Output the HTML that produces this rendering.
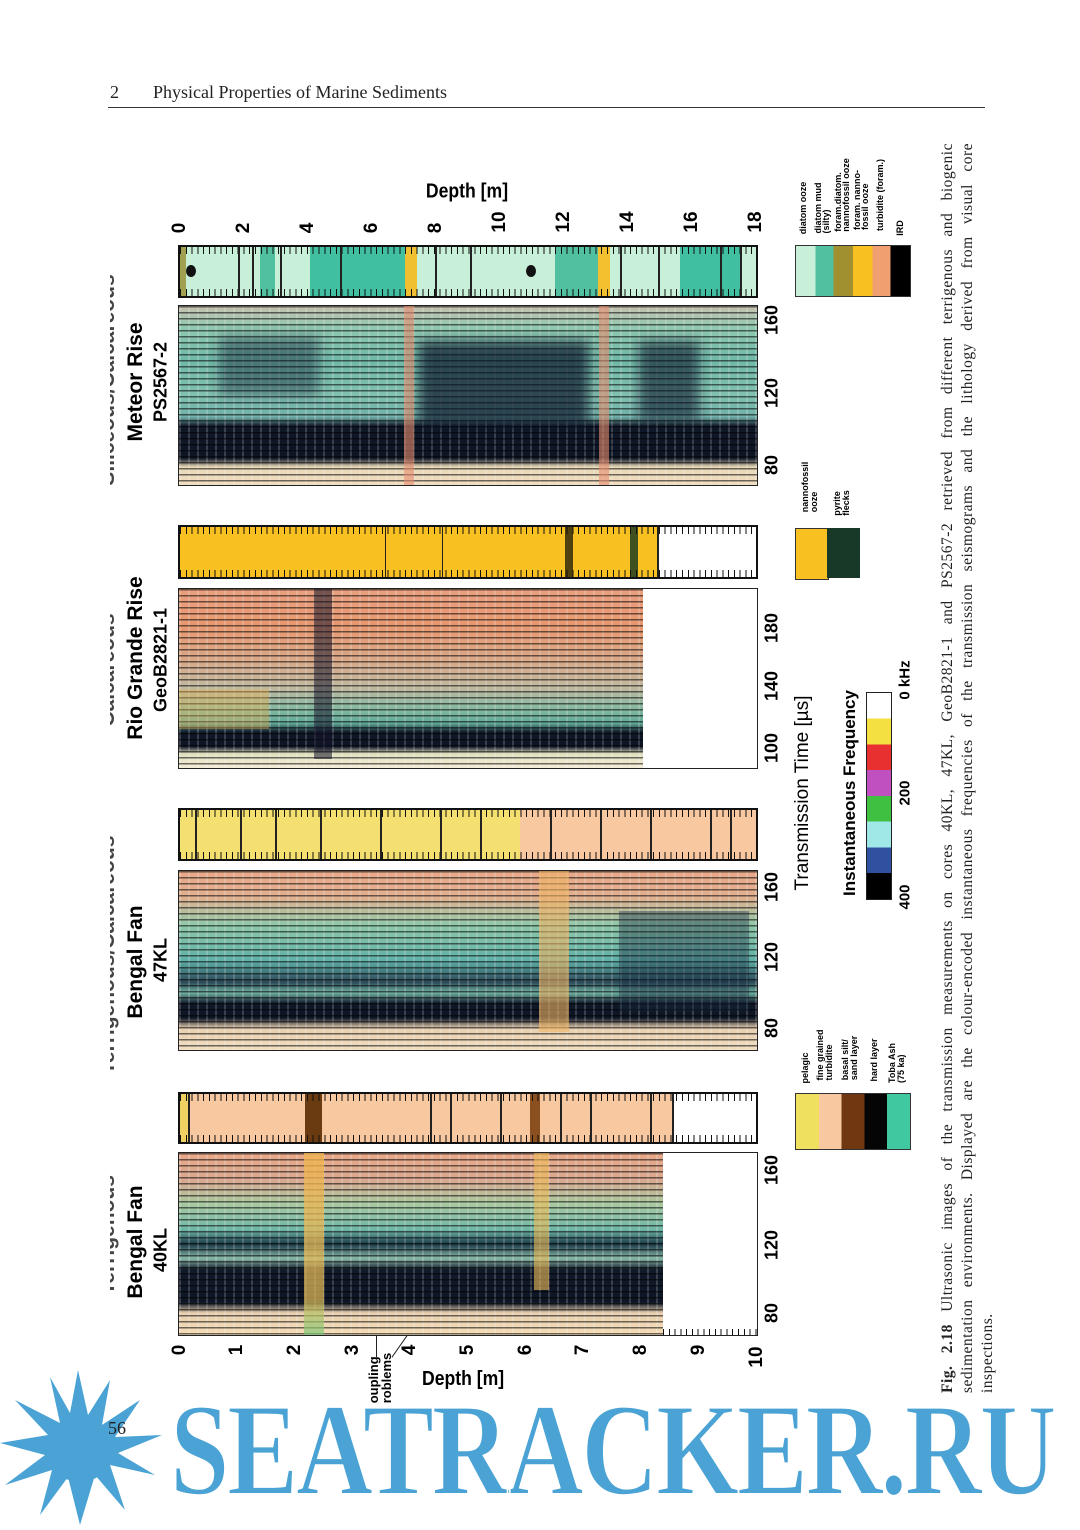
<!DOCTYPE html>
<html><head><meta charset="utf-8">
<style>
body{margin:0;background:#fff;}
#p{position:relative;width:1080px;height:1530px;overflow:hidden;background:#fff;font-family:"Liberation Sans",sans-serif;}
.a{position:absolute;}
.r{position:absolute;white-space:nowrap;transform:translate(-50%,-50%) rotate(-90deg);}
.b{font-weight:bold;}
.seis{position:absolute;border:1.5px solid #222;box-sizing:border-box;}
.stripe{position:absolute;inset:0;background:repeating-linear-gradient(to bottom,rgba(0,0,0,.55) 0 1.5px,transparent 1.5px 6px),repeating-linear-gradient(to right,rgba(255,255,255,.18) 0 2px,transparent 2px 9px);}
.bar{position:absolute;border:2px solid #111;box-sizing:border-box;}
.tk{position:absolute;left:0;right:0;height:7px;background:repeating-linear-gradient(to right,#111 0 1px,transparent 1px 5.77px);}
.vl{position:absolute;top:0;bottom:0;width:2px;background:#222;}
.cap{position:absolute;left:938px;top:1393px;width:1250px;transform-origin:0 0;transform:rotate(-90deg);font-family:"Liberation Serif",serif;font-size:15.5px;line-height:20px;color:#222;letter-spacing:.5px;}
.cap div{text-align:justify;text-align-last:justify;white-space:nowrap;}
.cap div.l{text-align-last:left;}
</style></head><body><div id="p">

<!-- header -->
<div class="a" style="left:110px;top:82px;font-family:'Liberation Serif',serif;font-size:18px;color:#222">2</div>
<div class="a" style="left:153px;top:82px;font-family:'Liberation Serif',serif;font-size:18px;color:#222">Physical Properties of Marine Sediments</div>
<div class="a" style="left:108px;top:107px;width:877px;height:1px;background:#333"></div>

<!-- top depth axis labels -->
<div class="r b" style="left:180px;top:228px;font-size:19px">0</div>
<div class="r b" style="left:244px;top:228px;font-size:19px">2</div>
<div class="r b" style="left:308px;top:228px;font-size:19px">4</div>
<div class="r b" style="left:372px;top:228px;font-size:19px">6</div>
<div class="r b" style="left:436px;top:228px;font-size:19px">8</div>
<div class="r b" style="left:500px;top:222px;font-size:19px">10</div>
<div class="r b" style="left:564px;top:222px;font-size:19px">12</div>
<div class="r b" style="left:628px;top:222px;font-size:19px">14</div>
<div class="r b" style="left:692px;top:222px;font-size:19px">16</div>
<div class="r b" style="left:756px;top:222px;font-size:19px">18</div>
<div class="r b" style="left:467px;top:192px;font-size:20px;transform:translate(-50%,-50%) scaleX(.88)">Depth [m]</div>

<!-- bottom depth axis -->
<div class="r b" style="left:180px;top:1350px;font-size:19px">0</div>
<div class="r b" style="left:237px;top:1350px;font-size:19px">1</div>
<div class="r b" style="left:295px;top:1350px;font-size:19px">2</div>
<div class="r b" style="left:353px;top:1350px;font-size:19px">3</div>
<div class="r b" style="left:410px;top:1350px;font-size:19px">4</div>
<div class="r b" style="left:468px;top:1350px;font-size:19px">5</div>
<div class="r b" style="left:526px;top:1350px;font-size:19px">6</div>
<div class="r b" style="left:583px;top:1350px;font-size:19px">7</div>
<div class="r b" style="left:641px;top:1350px;font-size:19px">8</div>
<div class="r b" style="left:699px;top:1350px;font-size:19px">9</div>
<div class="r b" style="left:757px;top:1357px;font-size:19px">10</div>
<div class="a b" style="left:422px;top:1368px;font-size:20px;transform:scaleX(.88);transform-origin:0 0">Depth [m]</div>
<div class="r b" style="left:380px;top:1378px;font-size:13px;line-height:13px">oupling<br>roblems</div>
<div class="a" style="left:376px;top:1335px;width:1px;height:22px;background:#222"></div>
<div class="a" style="left:400px;top:1330px;width:1px;height:30px;background:#222;transform:rotate(35deg)"></div>

<!-- ===== 40KL ===== -->
<div class="r b" style="left:108px;top:1235px;font-size:21px;color:#444">Terrigenous</div>
<div class="r b" style="left:136px;top:1242px;font-size:21px">Bengal Fan</div>
<div class="r b" style="left:161px;top:1250px;font-size:18px">40KL</div>
<div class="bar" style="left:178px;top:1092px;width:580px;height:52px;background:linear-gradient(to right,#f0d060 0 8px,#f8c8a0 8px 125px,#6a3a10 125px 142px,#f8c8a0 142px 350px,#8a5020 350px 360px,#f8c8a0 360px 494px,#fff 494px)">
<div class="tk" style="top:0"></div><div class="tk" style="bottom:0"></div>
<div class="vl" style="left:8px"></div><div class="vl" style="left:250px"></div><div class="vl" style="left:270px"></div><div class="vl" style="left:320px"></div><div class="vl" style="left:380px"></div><div class="vl" style="left:410px"></div><div class="vl" style="left:470px"></div><div class="vl" style="left:492px"></div>
</div>
<div class="seis" style="left:178px;top:1152px;width:580px;height:184px;background:#fff">
<div class="a" style="left:0;top:0;width:484px;height:100%;background:linear-gradient(to bottom,#e8a888 0%,#d8a890 15%,#a8c8a0 28%,#70b8a8 42%,#1c3a48 50%,#88b8a8 58%,#111a2a 64%,#0e1626 82%,#e8d0b0 88%,#f4dcb8 100%)"><div class="stripe"></div>
<div class="a" style="left:125px;top:0;width:20px;height:100%;background:linear-gradient(to bottom,rgba(240,180,80,.8),rgba(230,190,90,.7) 80%,rgba(120,200,120,.7))"></div>
<div class="a" style="left:355px;top:0;width:15px;height:75%;background:rgba(240,190,90,.6)"></div>
</div>
<div class="tk" style="top:auto;bottom:0;left:484px;height:6px"></div>
</div>
<div class="r b" style="left:772px;top:1170px;font-size:18px">160</div>
<div class="r b" style="left:772px;top:1245px;font-size:18px">120</div>
<div class="r b" style="left:772px;top:1313px;font-size:18px">80</div>

<!-- ===== 47KL ===== -->
<div class="r b" style="left:108px;top:955px;font-size:21px;color:#444">Terrigenous/Calcareous</div>
<div class="r b" style="left:136px;top:962px;font-size:21px">Bengal Fan</div>
<div class="r b" style="left:161px;top:960px;font-size:18px">47KL</div>
<div class="bar" style="left:178px;top:808px;width:580px;height:53px;background:linear-gradient(to right,#f4e070 0 340px,#f8c8a0 340px)">
<div class="tk" style="top:0"></div><div class="tk" style="bottom:0"></div>
<div class="vl" style="left:15px"></div><div class="vl" style="left:60px"></div><div class="vl" style="left:95px"></div><div class="vl" style="left:140px"></div><div class="vl" style="left:200px"></div><div class="vl" style="left:260px"></div><div class="vl" style="left:300px"></div><div class="vl" style="left:370px"></div><div class="vl" style="left:420px"></div><div class="vl" style="left:470px"></div><div class="vl" style="left:530px"></div><div class="vl" style="left:550px"></div>
</div>
<div class="seis" style="left:178px;top:870px;width:580px;height:181px;background:linear-gradient(to bottom,#e8a888 0%,#e0b090 15%,#90c8a8 30%,#60b0a8 50%,#2a4858 62%,#70b0a0 68%,#101828 74%,#0e1626 82%,#e8d0b0 88%,#f0dcc0 100%)">
<div class="stripe"></div>
<div class="a" style="left:360px;top:0;width:30px;height:90%;background:rgba(240,180,100,.6)"></div>
<div class="a" style="left:440px;top:40px;width:130px;height:100px;background:rgba(20,40,60,.4)"></div>
</div>
<div class="r b" style="left:772px;top:887px;font-size:18px">160</div>
<div class="r b" style="left:772px;top:957px;font-size:18px">120</div>
<div class="r b" style="left:772px;top:1028px;font-size:18px">80</div>

<!-- ===== GeoB ===== -->
<div class="r b" style="left:108px;top:670px;font-size:21px;color:#444">Calcareous</div>
<div class="r b" style="left:136px;top:658px;font-size:21px">Rio Grande Rise</div>
<div class="r b" style="left:161px;top:660px;font-size:18px">GeoB2821-1</div>
<div class="bar" style="left:178px;top:525px;width:580px;height:54px;background:linear-gradient(to right,#f8c020 0 385px,#504010 385px 393px,#f8c020 393px 450px,#405020 450px 458px,#f8c020 458px 477px,#fff 477px)">
<div class="tk" style="top:0"></div><div class="tk" style="bottom:0"></div>
<div class="vl" style="left:205px;width:1px"></div><div class="vl" style="left:262px;width:1px"></div><div class="vl" style="left:477px"></div>
</div>
<div class="seis" style="left:178px;top:588px;width:580px;height:181px;background:#fff">
<div class="a" style="left:0;top:0;width:464px;height:100%;background:linear-gradient(to bottom,#e8a080 0%,#e89870 20%,#d8a888 40%,#c0b8a0 55%,#80b8a0 68%,#60a898 75%,#101828 80%,#0e1626 88%,#e0e0c0 92%,#f4ecd8 100%)"><div class="stripe"></div>
<div class="a" style="left:135px;top:0;width:18px;height:95%;background:rgba(20,20,40,.55)"></div>
<div class="a" style="left:0;top:100px;width:90px;height:40px;background:rgba(240,180,80,.4)"></div>
</div>
</div>
<div class="r b" style="left:772px;top:628px;font-size:18px">180</div>
<div class="r b" style="left:772px;top:686px;font-size:18px">140</div>
<div class="r b" style="left:772px;top:748px;font-size:18px">100</div>

<!-- ===== PS2567 ===== -->
<div class="r b" style="left:108px;top:380px;font-size:21px;color:#444">Siliceous/Calcareous</div>
<div class="r b" style="left:136px;top:382px;font-size:21px">Meteor Rise</div>
<div class="r b" style="left:161px;top:382px;font-size:18px">PS2567-2</div>
<div class="bar" style="left:178px;top:245px;width:580px;height:53px;background:linear-gradient(to right,#a0a050 0 6px,#c8f0d8 6px 80px,#50c0a0 80px 95px,#c8f0d8 95px 130px,#40c0a0 130px 225px,#f0c030 225px 237px,#c8f0d8 237px 375px,#50c0a0 375px 418px,#f4c030 418px 430px,#c8f0d8 430px 500px,#40c0a0 500px 560px,#c8f0d8 560px)">
<div class="tk" style="top:0"></div><div class="tk" style="bottom:0"></div>
<div class="vl" style="left:58px"></div><div class="vl" style="left:72px"></div><div class="vl" style="left:100px"></div><div class="vl" style="left:160px"></div><div class="vl" style="left:255px"></div><div class="vl" style="left:290px"></div><div class="vl" style="left:440px"></div><div class="vl" style="left:478px"></div><div class="vl" style="left:540px"></div><div class="vl" style="left:560px"></div>
<div class="a" style="left:6px;top:18px;width:10px;height:12px;border-radius:50%;background:#111"></div>
<div class="a" style="left:346px;top:18px;width:10px;height:12px;border-radius:50%;background:#111"></div>
</div>
<div class="seis" style="left:178px;top:305px;width:580px;height:181px;background:linear-gradient(to bottom,#c8c0b0 0%,#90c8b0 12%,#70b8a8 30%,#80c0b0 50%,#70b0a8 62%,#101828 67%,#0e1626 85%,#e8d8b8 90%,#f0dcc0 100%)">
<div class="stripe"></div>
<div class="a" style="left:240px;top:35px;width:170px;height:85px;background:rgba(10,20,40,.7);filter:blur(6px)"></div>
<div class="a" style="left:460px;top:35px;width:60px;height:80px;background:rgba(10,20,40,.6);filter:blur(6px)"></div>
<div class="a" style="left:40px;top:30px;width:100px;height:60px;background:rgba(10,20,40,.4);filter:blur(6px)"></div>
<div class="a" style="left:225px;top:0;width:10px;height:100%;background:rgba(230,140,110,.6)"></div>
<div class="a" style="left:420px;top:0;width:10px;height:100%;background:rgba(230,140,110,.6)"></div>
</div>
<div class="r b" style="left:772px;top:320px;font-size:18px">160</div>
<div class="r b" style="left:772px;top:393px;font-size:18px">120</div>
<div class="r b" style="left:772px;top:465px;font-size:18px">80</div>

<!-- clip title tops -->
<div class="a" style="left:0;top:150px;width:110px;height:1200px;background:#fff"></div>

<!-- central legend -->
<div class="r" style="left:803px;top:793px;font-size:19px">Transmission Time [µs]</div>
<div class="r b" style="left:850px;top:793px;font-size:17px">Instantaneous Frequency</div>
<div class="a" style="left:866px;top:692px;width:24px;height:206px;border:1px solid #222;background:linear-gradient(to bottom,#fff 0 12.5%,#f4e040 12.5% 25%,#e83030 25% 37.5%,#c050c0 37.5% 50%,#40c040 50% 62.5%,#a0e8e8 62.5% 75%,#3050a0 75% 87.5%,#000 87.5%)"></div>
<div class="r b" style="left:905px;top:897px;font-size:15px">400</div>
<div class="r b" style="left:905px;top:793px;font-size:15px">200</div>
<div class="r b" style="left:905px;top:680px;font-size:15px">0 kHz</div>

<!-- legend bottom -->
<div class="a" style="left:795px;top:1093px;width:114px;height:55px;border:1px solid #333;background:linear-gradient(to right,#f0e060 0 20%,#f8c8a0 20% 40%,#703810 40% 60%,#050505 60% 80%,#40c8a0 80%)"></div>
<div class="r b" style="left:805px;top:1068px;font-size:9px">pelagic</div>
<div class="r b" style="left:825px;top:1055px;font-size:9px;line-height:9px">fine grained<br>turbidite</div>
<div class="r b" style="left:850px;top:1058px;font-size:9px;line-height:9px">basal silt/<br>sand layer</div>
<div class="r b" style="left:874px;top:1060px;font-size:9px">hard layer</div>
<div class="r b" style="left:897px;top:1063px;font-size:9px;line-height:9px">Toba Ash<br>(75 ka)</div>

<!-- legend nanno -->
<div class="a" style="left:795px;top:528px;width:32px;height:50px;background:#f8c020;border:1px solid #333"></div>
<div class="a" style="left:827px;top:528px;width:33px;height:50px;background:#183828"></div>
<div class="r b" style="left:810px;top:487px;font-size:9px;line-height:9px">nannofossil<br>ooze</div>
<div class="r b" style="left:842px;top:503px;font-size:9px;line-height:9px">pyrite<br>flecks</div>

<!-- legend top right -->
<div class="a" style="left:795px;top:245px;width:114px;height:50px;border:1px solid #333;background:linear-gradient(to right,#c8f0d8 0 17%,#50c0a0 17% 33%,#a09030 33% 50%,#f8c020 50% 67%,#f0a070 67% 83%,#000 83%)"></div>
<div class="r b" style="left:803px;top:208px;font-size:9px">diatom ooze</div>
<div class="r b" style="left:822px;top:208px;font-size:9px;line-height:8px">diatom mud<br>(silty)</div>
<div class="r b" style="left:842px;top:195px;font-size:9px;line-height:8px">foram.diatom.<br>nannofossil ooze</div>
<div class="r b" style="left:861px;top:200px;font-size:9px;line-height:8px">foram. nanno-<br>fossil ooze</div>
<div class="r b" style="left:880px;top:195px;font-size:9px">turbidite (foram.)</div>
<div class="r b" style="left:900px;top:228px;font-size:9px">IRD</div>

<!-- caption -->
<div class="cap">
<div><b>Fig. 2.18</b> Ultrasonic images of the transmission measurements on cores 40KL, 47KL, GeoB2821-1 and PS2567-2 retrieved from different terrigenous and biogenic</div>
<div>sedimentation environments. Displayed are the colour-encoded instantaneous frequencies of the transmission seismograms and the lithology derived from visual core</div>
<div class="l">inspections.</div>
</div>

<!-- watermark -->
<svg class="a" style="left:0;top:1365px" width="170" height="165" viewBox="0 0 170 165">
<polygon fill="#4aa3d4" points="
78,5 88,50 110,15 102,60 140,35 115,72 162,70 118,88 155,110 110,100 125,145 95,110 80,160 68,112 40,150 52,105 5,120 45,90 0,78 48,70 15,35 60,58 50,12 70,48"/>
<circle cx="80" cy="84" r="33" fill="#4aa3d4"/>
</svg>
<div class="a" style="left:108px;top:1418px;font-family:'Liberation Serif',serif;font-size:18px;color:#222">56</div>
<div class="a" style="left:170px;top:1385px;width:1200px;font-family:'Liberation Serif',serif;font-weight:bold;font-size:132px;line-height:130px;color:#4aa3d4;transform-origin:0 0;transform:scaleX(0.81);letter-spacing:-3px;-webkit-text-stroke:2px #fff;white-space:nowrap">SEATRACKER.RU</div>

</div></body></html>
